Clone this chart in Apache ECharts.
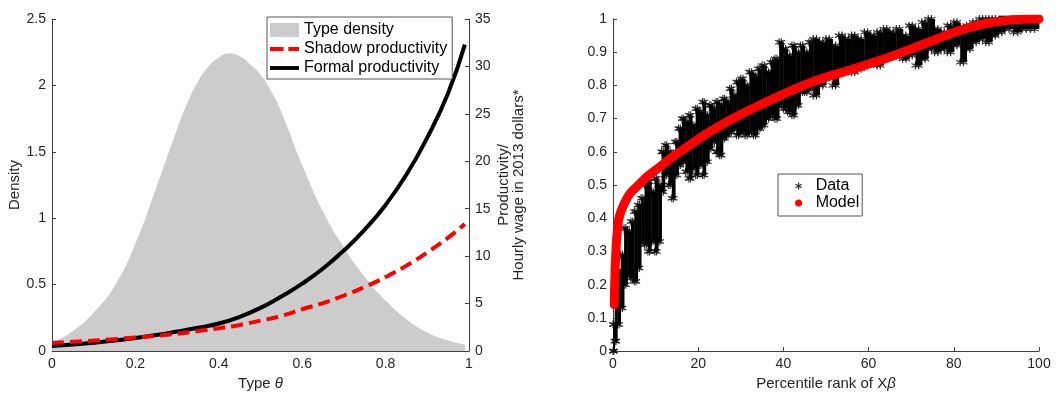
<!DOCTYPE html>
<html>
<head>
<meta charset="utf-8">
<script src="https://cdn.jsdelivr.net/npm/echarts@6/dist/echarts.min.js"></script>
<style>
html,body{margin:0;padding:0;background:#fff;}
#chart{width:1059px;height:396px;}
</style>
</head>
<body>
<div id="chart"></div>
<script>
// left panel: type density
const densTheta = [0, 0.05, 0.1, 0.15, 0.2, 0.25, 0.3, 0.325, 0.35, 0.375, 0.4, 0.425, 0.45, 0.475, 0.5, 0.525, 0.55, 0.6, 0.65, 0.7, 0.75, 0.8, 0.85, 0.9, 0.95, 0.99];
const typeDensity = [0.06, 0.15, 0.29, 0.49, 0.81, 1.23, 1.67, 1.87, 2.03, 2.14, 2.21, 2.24, 2.22, 2.16, 2.08, 1.96, 1.80, 1.40, 1.05, 0.78, 0.56, 0.38, 0.24, 0.14, 0.08, 0.05];

// left panel: productivity profiles
const theta = [0, 0.05, 0.1, 0.15, 0.2, 0.25, 0.3, 0.35, 0.4, 0.45, 0.5, 0.55, 0.6, 0.65, 0.7, 0.75, 0.8, 0.85, 0.9, 0.95, 0.99];
const shadowProd = [0.85, 0.97, 1.1, 1.25, 1.42, 1.6, 1.82, 2.1, 2.4, 2.75, 3.2, 3.7, 4.4, 5.05, 5.85, 6.75, 7.8, 9.0, 10.4, 11.95, 13.4];
const formalProd = [0.52, 0.68, 0.87, 1.1, 1.38, 1.68, 2.05, 2.45, 2.9, 3.6, 4.55, 5.75, 7.1, 8.7, 10.6, 12.8, 15.4, 18.6, 22.5, 27.2, 32.3];

// right panel: model curve
const modelRank = [0.3, 0.4, 0.6, 1, 1.5, 2.5, 4, 6, 8, 10, 14, 18, 22, 26, 30, 34, 40, 48, 56, 64, 70, 76, 82, 88, 94, 100];
const modelWage = [0.14, 0.2, 0.28, 0.36, 0.405, 0.44, 0.475, 0.5, 0.525, 0.545, 0.585, 0.62, 0.655, 0.685, 0.713, 0.738, 0.774, 0.816, 0.848, 0.881, 0.91, 0.94, 0.968, 0.988, 0.998, 1.0];

// right panel: data, read as vertical streaks (left edge, low, high)
const dataRank = [0, 0.4, 1.0, 1.8, 2.6, 3.4, 4.2, 5.0, 5.8, 6.6, 7.4, 8.2, 9.0, 9.8, 10.6, 11.4, 12.2, 13.0, 13.8, 14.6,
  15.4, 16.2, 17.0, 17.8, 18.6, 19.4, 20.2, 21.0, 21.8, 22.6, 23.4, 24.2, 25.0, 25.8, 26.6, 27.4, 28.2, 29.0, 30, 31,
  32, 33, 34, 35, 36, 37, 38, 39, 40, 41, 42, 43, 44, 45, 46, 47, 48.5, 50, 51.5, 53,
  54.5, 56, 57.5, 59, 60.5, 62, 63.5, 65, 66.5, 68, 69.5, 71, 72.5, 74, 75.5, 77, 78.5, 80, 81.5, 83,
  84.5, 86, 87.5, 89, 90.5, 92, 94, 96, 98];
const dataLow = [0.0, 0.03, 0.08, 0.13, 0.20, 0.23, 0.22, 0.21, 0.25, 0.33, 0.32, 0.30, 0.33, 0.30, 0.33, 0.48, 0.53, 0.50, 0.46, 0.53,
  0.56, 0.57, 0.54, 0.52, 0.55, 0.53, 0.56, 0.53, 0.57, 0.61, 0.63, 0.60, 0.59, 0.64, 0.65, 0.66, 0.67, 0.65, 0.66, 0.65,
  0.66, 0.65, 0.67, 0.68, 0.70, 0.71, 0.70, 0.74, 0.73, 0.72, 0.71, 0.74, 0.78, 0.78, 0.79, 0.77, 0.80, 0.83, 0.80, 0.84,
  0.85, 0.84, 0.85, 0.86, 0.87, 0.86, 0.89, 0.90, 0.89, 0.88, 0.89, 0.86, 0.88, 0.91, 0.90, 0.91, 0.90, 0.92, 0.87, 0.91,
  0.93, 0.94, 0.93, 0.95, 0.96, 0.97, 0.96, 0.97, 0.97];
const dataHigh = [0.08, 0.16, 0.24, 0.29, 0.37, 0.36, 0.39, 0.42, 0.44, 0.46, 0.50, 0.51, 0.48, 0.52, 0.50, 0.60, 0.62, 0.60, 0.58, 0.63,
  0.67, 0.70, 0.69, 0.71, 0.68, 0.73, 0.72, 0.75, 0.71, 0.74, 0.73, 0.75, 0.74, 0.76, 0.75, 0.79, 0.77, 0.81, 0.82, 0.80,
  0.84, 0.83, 0.85, 0.86, 0.84, 0.87, 0.88, 0.93, 0.91, 0.89, 0.92, 0.90, 0.92, 0.90, 0.93, 0.94, 0.93, 0.94, 0.92, 0.95,
  0.94, 0.95, 0.94, 0.96, 0.95, 0.96, 0.97, 0.96, 0.97, 0.95, 0.98, 0.97, 0.99, 1.00, 0.97, 0.96, 0.98, 0.99, 0.97, 0.98,
  0.99, 1.00, 1.00, 1.00, 1.01, 1.01, 1.00, 1.01, 1.00];
const rankMax = 100;

const FONT = "'Liberation Sans', Arial, Helvetica, sans-serif";
const AX = '#404040';
const TXT = '#262626';
const star = 'path://M5 0L5 10M0.67 2.5L9.33 7.5M0.67 7.5L9.33 2.5';
const solidIcon = 'path://M0 0H30V4H0Z';
const dashIcon = 'path://M0 0H14V4H0ZM19 0H30V4H19Z';

const streaks = dataRank.map((x, i) => [x, i + 1 < dataRank.length ? dataRank[i + 1] : rankMax, dataLow[i], dataHigh[i]]);
const streakEnds = [];
streaks.forEach(s => {
  const mid = (s[0] + s[1]) / 2;
  streakEnds.push([s[0], s[2]], [mid, s[2]], [s[0], s[3]], [mid, s[3]]);
});

const italic = {i: {fontStyle: 'italic', fontFamily: FONT, fontSize: 15, color: TXT}};

function valAxis(extra) {
  return Object.assign({
    type: 'value',
    axisLine: {show: true, lineStyle: {color: AX, width: 1}},
    axisTick: {show: true, inside: true, length: 4, lineStyle: {color: AX}},
    splitLine: {show: false},
    axisLabel: {color: TXT, fontSize: 14, fontFamily: FONT, margin: 6},
    nameTextStyle: {color: TXT, fontSize: 15, fontFamily: FONT, rich: italic},
    nameLocation: 'middle'
  }, extra);
}

const chart = echarts.init(document.getElementById('chart'));
chart.setOption({
  animation: false,
  backgroundColor: '#fff',
  textStyle: {fontFamily: FONT},
  grid: [
    {left: 52, right: 590, top: 19, bottom: 37},
    {left: 613, right: 20, top: 19, bottom: 37}
  ],
  xAxis: [
    valAxis({gridIndex: 0, min: 0, max: 1, interval: 0.2, name: 'Type {i|θ}', nameGap: 25}),
    valAxis({gridIndex: 1, min: 0, max: 100, interval: 20, name: 'Percentile rank of X{i|β}', nameGap: 24})
  ],
  yAxis: [
    valAxis({gridIndex: 0, min: 0, max: 2.5, interval: 0.5, position: 'left', name: 'Density', nameGap: 24}),
    valAxis({gridIndex: 0, min: 0, max: 35, interval: 5, position: 'right',
      name: 'Productivity/\nHourly wage in 2013 dollars*', nameGap: 27,
      nameTextStyle: {color: TXT, fontSize: 15, fontFamily: FONT, lineHeight: 15}}),
    valAxis({gridIndex: 1, min: 0, max: 1, interval: 0.1, position: 'left'})
  ],
  legend: [
    {
      left: 267, top: 17, orient: 'vertical', selectedMode: false,
      itemWidth: 29, itemHeight: 14, itemGap: 3,
      padding: [5, 5, 3, 3],
      borderColor: '#555', borderWidth: 1, backgroundColor: '#fff',
      textStyle: {color: '#000', fontSize: 16, fontFamily: FONT},
      data: [
        {name: 'Type density', icon: 'rect', itemStyle: {color: '#cccccc'}},
        {name: 'Shadow productivity', icon: dashIcon, itemStyle: {color: '#ff0000'}},
        {name: 'Formal productivity', icon: solidIcon, itemStyle: {color: '#000'}}
      ]
    },
    {
      left: 778, top: 174, orient: 'vertical', selectedMode: false,
      itemWidth: 24, itemHeight: 7, itemGap: 1,
      padding: [4, 3, 5, 17],
      borderColor: '#555', borderWidth: 1, backgroundColor: '#fff',
      textStyle: {color: '#000', fontSize: 16, fontFamily: FONT},
      data: [
        {name: 'Data', icon: star, itemStyle: {color: '#000', borderColor: '#000', borderWidth: 1.2}},
        {name: 'Model', icon: 'circle', itemStyle: {color: '#ff0000'}}
      ]
    }
  ],
  series: [
    {
      name: 'Type density', type: 'line', xAxisIndex: 0, yAxisIndex: 0,
      data: densTheta.map((t, i) => [t, typeDensity[i]]),
      smooth: 0.5, symbol: 'none',
      lineStyle: {width: 0, color: '#cccccc'},
      itemStyle: {color: '#cccccc'},
      areaStyle: {color: '#cccccc', opacity: 1},
      z: 1
    },
    {
      name: 'Shadow productivity', type: 'line', xAxisIndex: 0, yAxisIndex: 1,
      data: theta.map((t, i) => [t, shadowProd[i]]),
      smooth: 0.5, symbol: 'none',
      lineStyle: {width: 4, color: '#ff0000', type: [12, 6]},
      itemStyle: {color: '#ff0000'},
      z: 3
    },
    {
      name: 'Formal productivity', type: 'line', xAxisIndex: 0, yAxisIndex: 1,
      data: theta.map((t, i) => [t, formalProd[i]]),
      smooth: 0.5, symbol: 'none',
      lineStyle: {width: 4, color: '#000'},
      itemStyle: {color: '#000'},
      z: 2
    },
    {
      name: 'Data streaks', type: 'custom', xAxisIndex: 1, yAxisIndex: 2,
      data: streaks,
      encode: {x: [0, 1], y: [2, 3]},
      renderItem: function (params, api) {
        const s = streaks[params.dataIndex];
        const a = api.coord([s[0], s[3]]);
        const b = api.coord([s[1], s[2]]);
        return {
          type: 'rect',
          shape: {x: a[0], y: a[1], width: Math.max(1, b[0] - a[0] + 0.4), height: b[1] - a[1]},
          style: {fill: '#000'}
        };
      },
      z: 2
    },
    {
      name: 'Data', type: 'scatter', xAxisIndex: 1, yAxisIndex: 2,
      data: streakEnds,
      symbol: star, symbolSize: 8,
      itemStyle: {color: '#000', borderColor: '#000', borderWidth: 1.2},
      z: 2
    },
    {
      name: 'Model', type: 'line', xAxisIndex: 1, yAxisIndex: 2,
      data: modelRank.map((r, i) => [r, modelWage[i]]),
      smooth: 0.3, symbol: 'none',
      lineStyle: {width: 9, color: '#ff0000', cap: 'round'},
      itemStyle: {color: '#ff0000'},
      z: 4
    }
  ]
});
</script>
</body>
</html>
